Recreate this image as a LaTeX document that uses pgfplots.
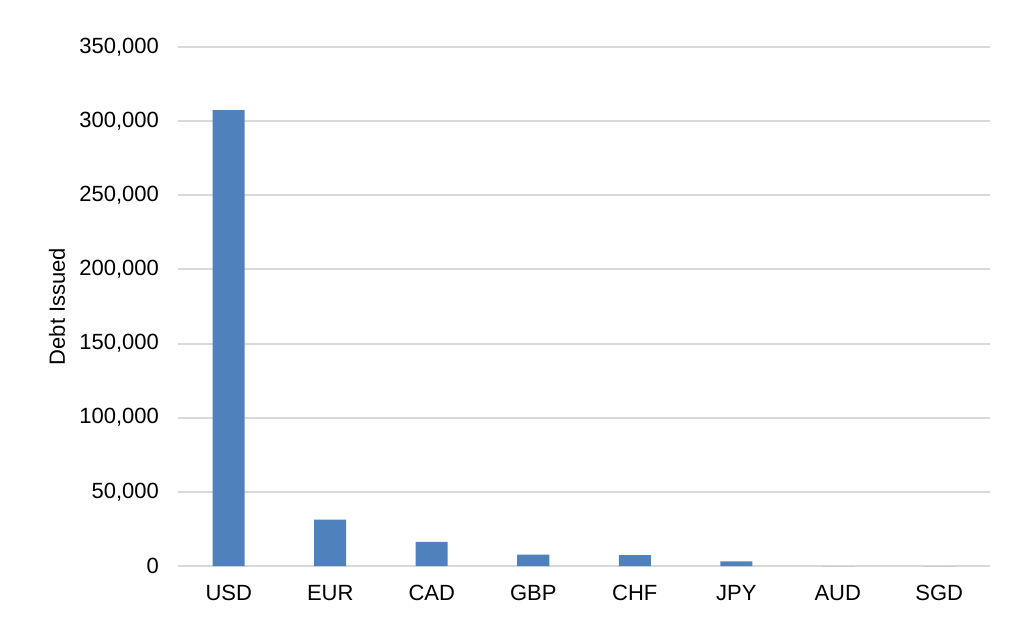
\documentclass[border=0pt]{standalone}
\usepackage{pgfplots}
\pgfplotsset{compat=1.18}
\usepackage{fontspec}
\setmainfont{Liberation Sans}
\definecolor{barblue}{HTML}{4F81BD}
\definecolor{gridgray}{HTML}{D9D9D9}
\begin{document}
\begin{tikzpicture}
\useasboundingbox (-89bp,-36bp) rectangle (423bp,283bp);
\begin{axis}[
  scale only axis,
  width=406bp, height=259.5bp,
  xmin=-0.5, xmax=7.5,
  ymin=0, ymax=350000,
  ytick={0,50000,100000,150000,200000,250000,300000,350000},
  yticklabels={0,{50,000},{100,000},{150,000},{200,000},{250,000},{300,000},{350,000}},
  xtick={0,1,2,3,4,5,6,7},
  xticklabels={USD,EUR,CAD,GBP,CHF,JPY,AUD,SGD},
  scaled y ticks=false,
  ymajorgrids,
  grid style={gridgray, line width=1bp},
  axis line style={draw=none},
  major tick length=0pt,
  tick label style={font=\fontsize{11bp}{13bp}\selectfont},
  yticklabel style={xshift=-6bp},
  xticklabel style={yshift=-6bp},
  ylabel={Debt Issued},
  ylabel style={at={(axis description cs:-0.149,0.5)}, anchor=center, font=\fontsize{11bp}{13bp}\selectfont},
  ybar, bar width=16bp,
]
\draw[gridgray, line width=1bp] (axis cs:-0.5,0) -- (axis cs:7.5,0);
\addplot[fill=barblue, draw=none] coordinates {
  (0,307400) (1,31300) (2,16300) (3,7600) (4,7400) (5,3200) (6,0) (7,0)
};
\end{axis}
\end{tikzpicture}
\end{document}
